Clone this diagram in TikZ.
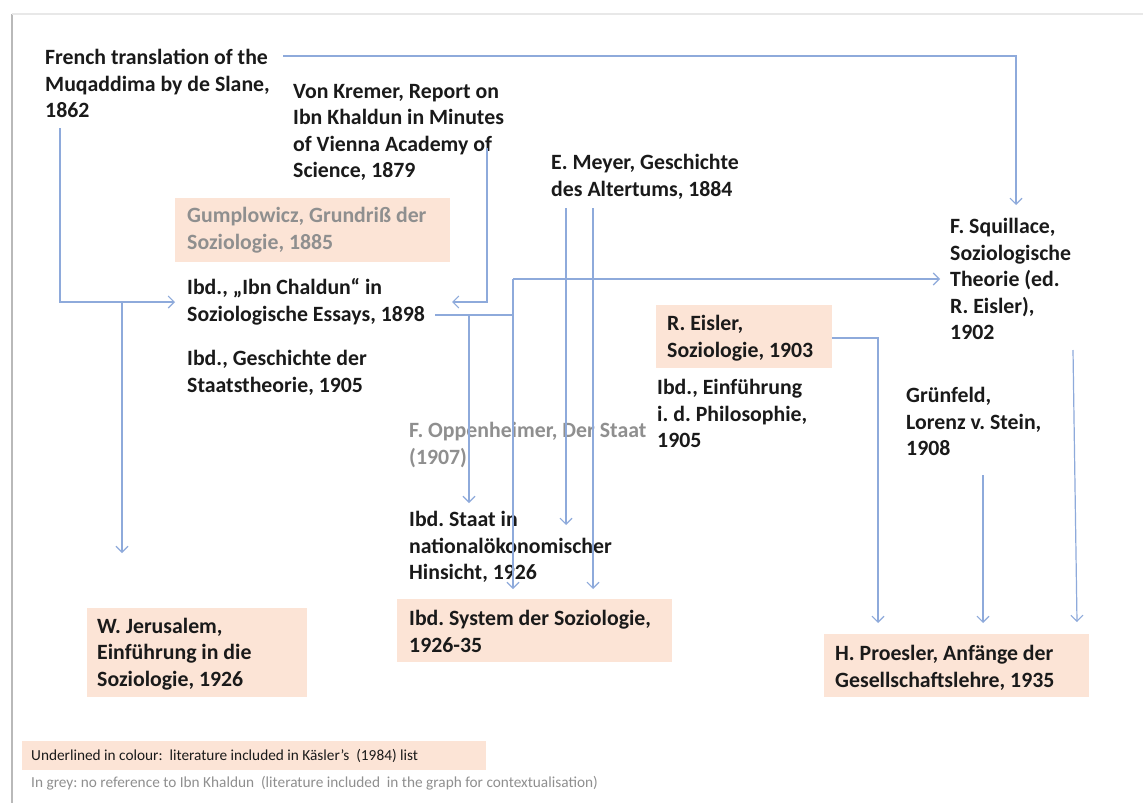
\documentclass[tikz,border=0pt]{standalone}
\usepackage{fontspec}
\setmainfont{Carlito}
\usetikzlibrary{arrows.meta}
\definecolor{peach}{HTML}{FCE4D6}
\definecolor{lnblue}{HTML}{8EAADB}
\definecolor{greytxt}{HTML}{8F8F8F}
\definecolor{ink}{HTML}{1A1A1A}
\frenchspacing
\tikzset{
  lbl/.style={font=\fontsize{21.8}{26.5}\selectfont\bfseries, align=left, inner sep=0pt, anchor=west, text=ink},
  greylbl/.style={lbl, text=greytxt},
  boxbg/.style={fill=peach, draw=none, inner sep=0pt},
  arr/.style={draw=lnblue, line width=1.2pt, -{Straight Barb[length=6pt,width=12pt,line width=1.1pt]}},
  ln/.style={draw=lnblue, line width=1.2pt},
  note/.style={font=\fontsize{15.3}{17}\selectfont, inner sep=0pt, anchor=west, text=ink}
}
\begin{document}
\begin{tikzpicture}[x=1pt,y=-1pt]
\useasboundingbox (0,0) rectangle (1143,803);
\fill[white] (0,0) rectangle (1143,803);
% page shadow
\draw[gray!55, line width=2.5pt] (12,14) -- (12,803);
\draw[gray!18, line width=2pt] (12,14) -- (1143,14);

% boxes
\node[boxbg, minimum width=275pt, minimum height=64pt] (gumbox) at (312.5,230) {};
\node[boxbg, minimum width=176pt, minimum height=63pt] (eisbox) at (744,336.5) {};
\node[boxbg, minimum width=220pt, minimum height=89pt] (jerbox) at (197,652.5) {};
\node[boxbg, minimum width=275pt, minimum height=63pt] (sysbox) at (534.5,630.5) {};
\node[boxbg, minimum width=265pt, minimum height=63pt] (probox) at (956.5,665.5) {};
\node[boxbg, minimum width=464pt, minimum height=29pt] (legbox) at (254,755.5) {};

% texts
\node[lbl] (french) at (45,83.5) {French translation of the\\Muqaddima by de Slane,\\1862};
\node[lbl] (kremer) at (293,132.5) {Von Kremer, Report on\\Ibn Khaldun in Minutes\\of Vienna Academy of\\Science, 1879};
\node[greylbl] (gump) at (187,230) {Gumplowicz, Grundriß der\\Soziologie, 1885};
\node[lbl] (essays) at (187,302) {Ibd., „Ibn Chaldun“ in\\Soziologische Essays, 1898};
\node[lbl] (staatsth) at (187,373) {Ibd., Geschichte der\\Staatstheorie, 1905};
\node[lbl] (meyer) at (551,177) {E. Meyer, Geschichte\\des Altertums, 1884};
\node[lbl] (squill) at (950,279) {F. Squillace,\\Soziologische\\Theorie (ed.\\R. Eisler),\\1902};
\node[lbl] (eisler) at (667,338) {R. Eisler,\\Soziologie, 1903};
\node[lbl] (einf) at (657,413.5) {Ibd., Einführung\\i. d. Philosophie,\\1905};
\node[greylbl] (oppen) at (409,445) {F. Oppenheimer, Der Staat\\(1907)};
\node[lbl] (staatin) at (409,547) {Ibd. Staat in\\nationalökonomischer\\Hinsicht, 1926};
\node[lbl] (gruen) at (906,421.5) {Grünfeld,\\Lorenz v. Stein,\\1908};
\node[lbl] (jerus) at (97,654) {W. Jerusalem,\\Einführung in die\\Soziologie, 1926};
\node[lbl] (system) at (409,631.5) {Ibd. System der Soziologie,\\1926-35};
\node[lbl] (proes) at (835,668) {H. Proesler, Anfänge der\\Gesellschaftslehre, 1935};
\node[note] (leg1) at (31,755.5) {Underlined in colour:\ \ literature included in Käsler’s\ \ (1984) list};
\begin{scope}
\clip (0,770) rectangle (1143,791);
\node[note, text=greytxt] (leg2) at (31,783) {In grey: no reference to Ibn Khaldun\ \ (literature included\ \ in the graph for contextualisation)};
\end{scope}

% connector end points
\coordinate (frR) at (283,56);
\coordinate (sqT) at (1016,205);
\coordinate (frB) at (60,128);
\coordinate (esL) at (175,302);
\coordinate (jbr) at (122,302);
\coordinate (jeT) at (122,553);
\coordinate (krB) at (487,148);
\coordinate (esR2) at (452,302);
\coordinate (esR) at (435,315);
\coordinate (brA) at (469,315);
\coordinate (brB) at (513,315);
\coordinate (brTop) at (513,279);
\coordinate (siT) at (469,503);
\coordinate (syT1) at (513,589);
\coordinate (sqL) at (940,279);
\coordinate (meB1) at (566,208);
\coordinate (meB2) at (593,208);
\coordinate (siT2) at (566,525);
\coordinate (syT2) at (593,589);
\coordinate (eiR) at (832,338);
\coordinate (prT1) at (878,623);
\coordinate (grB) at (983,475);
\coordinate (prT2) at (983,623);
\coordinate (sqB) at (1073,350);
\coordinate (prT3) at (1077,622);

% connectors
\draw[arr] (frR) -| (sqT);
\draw[arr] (frB) |- (esL);
\draw[arr] (jbr) -- (jeT);
\draw[arr] (krB) |- (esR2);
\draw[ln] (esR) -- (brB);
\draw[arr] (brA) -- (siT);
\draw[arr] (brTop) -- (syT1);
\draw[arr] (brTop) -- (sqL);
\draw[arr] (meB1) -- (siT2);
\draw[arr] (meB2) -- (syT2);
\draw[arr] (eiR) -| (prT1);
\draw[arr] (grB) -- (prT2);
\draw[arr] (sqB) -- (prT3);
\end{tikzpicture}
\end{document}
